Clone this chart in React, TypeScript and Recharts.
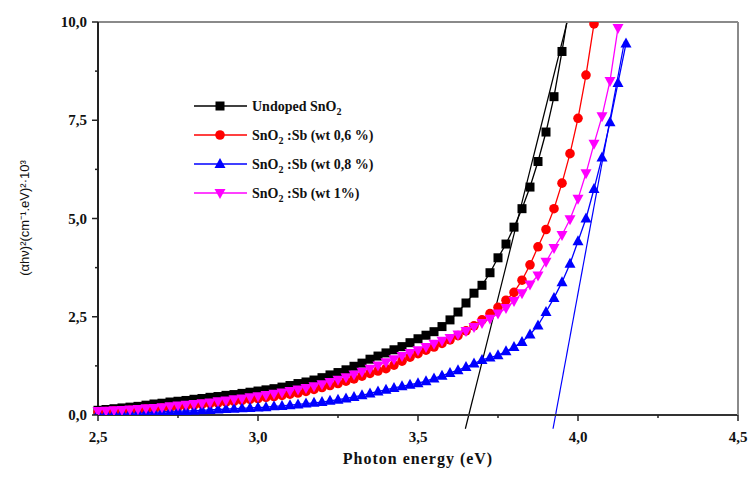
import React from 'react';
import { LineChart, Line, XAxis, YAxis, ReferenceLine } from 'recharts';

// photon energy grid (eV)
const energy = [
  2.5, 2.525, 2.55, 2.575, 2.6, 2.625, 2.65, 2.675, 2.7, 2.725,
  2.75, 2.775, 2.8, 2.825, 2.85, 2.875, 2.9, 2.925, 2.95, 2.975,
  3.0, 3.025, 3.05, 3.075, 3.1, 3.125, 3.15, 3.175, 3.2, 3.225,
  3.25, 3.275, 3.3, 3.325, 3.35, 3.375, 3.4, 3.425, 3.45, 3.475,
  3.5, 3.525, 3.55, 3.575, 3.6, 3.625, 3.65, 3.675, 3.7, 3.725,
  3.75, 3.775, 3.8, 3.825, 3.85, 3.875, 3.9, 3.925, 3.95, 3.975,
  4.0, 4.025, 4.05, 4.075, 4.1, 4.125, 4.15,
];

// (αhν)² ×10³ per sample
const undoped = [
  0.12, 0.14, 0.16, 0.18, 0.2, 0.22, 0.25, 0.28, 0.3, 0.33,
  0.35, 0.37, 0.4, 0.42, 0.45, 0.47, 0.5, 0.52, 0.55, 0.58,
  0.61, 0.64, 0.67, 0.71, 0.75, 0.8, 0.84, 0.89, 0.95, 1.02,
  1.08, 1.15, 1.24, 1.32, 1.42, 1.5, 1.58, 1.66, 1.74, 1.84,
  1.94, 2.03, 2.12, 2.25, 2.42, 2.62, 2.85, 3.1, 3.3, 3.62,
  4.0, 4.35, 4.78, 5.25, 5.8, 6.45, 7.2, 8.1, 9.25, 10.5,
];
const sb06 = [
  0.08, 0.09, 0.1, 0.11, 0.12, 0.13, 0.15, 0.16, 0.18, 0.19,
  0.21, 0.23, 0.25, 0.27, 0.29, 0.31, 0.33, 0.35, 0.37, 0.4,
  0.42, 0.45, 0.47, 0.5, 0.53, 0.56, 0.6, 0.65, 0.7, 0.75,
  0.8, 0.86, 0.92, 0.99, 1.06, 1.12, 1.18, 1.27, 1.37, 1.47,
  1.56, 1.65, 1.73, 1.82, 1.91, 2.02, 2.14, 2.27, 2.42, 2.58,
  2.74, 2.92, 3.12, 3.43, 3.82, 4.28, 4.72, 5.25, 5.9, 6.65,
  7.55, 8.65, 9.95,
];
const sb08 = [
  0.04, 0.04, 0.05, 0.05, 0.06, 0.06, 0.07, 0.07, 0.08, 0.09,
  0.1, 0.1, 0.11, 0.12, 0.13, 0.14, 0.15, 0.16, 0.17, 0.18,
  0.19, 0.2, 0.22, 0.23, 0.25, 0.27, 0.29, 0.31, 0.33, 0.36,
  0.39, 0.42, 0.46, 0.5, 0.55, 0.6, 0.64, 0.69, 0.73, 0.77,
  0.81, 0.86, 0.93, 1.0, 1.07, 1.14, 1.22, 1.31, 1.4, 1.46,
  1.52, 1.62, 1.73, 1.86, 2.05, 2.28, 2.62, 2.98, 3.38, 3.85,
  4.42, 5.0, 5.75, 6.55, 7.45, 8.45, 9.45,
];
const sb10 = [
  0.1, 0.11, 0.12, 0.13, 0.14, 0.15, 0.17, 0.18, 0.2, 0.22,
  0.24, 0.26, 0.28, 0.3, 0.32, 0.35, 0.37, 0.4, 0.42, 0.45,
  0.48, 0.51, 0.54, 0.57, 0.61, 0.65, 0.69, 0.73, 0.78, 0.84,
  0.9, 0.96, 1.03, 1.1, 1.18, 1.26, 1.34, 1.42, 1.5, 1.58,
  1.65, 1.73, 1.81, 1.89, 1.96, 2.05, 2.14, 2.24, 2.34, 2.45,
  2.58, 2.72, 2.9, 3.1, 3.32, 3.55, 3.9, 4.25, 4.58, 4.98,
  5.5, 6.15, 6.9, 7.6, 8.5, 9.85,
];

// linear fits used to read the band gap
const fitUndoped = [{ e: 3.648, v: -0.35 }, { e: 3.966, v: 10 }];
const fitSb08 = [{ e: 3.922, v: -0.35 }, { e: 4.145, v: 9.5 }];

const xTicks = [2.5, 2.75, 3.0, 3.25, 3.5, 3.75, 4.0, 4.25, 4.5];
const yTicks = [0, 1.25, 2.5, 3.75, 5, 6.25, 7.5, 8.75, 10];

const rows = energy.map((e, i) => ({
  e,
  undoped: undoped[i] ?? null,
  sb06: sb06[i] ?? null,
  sb08: sb08[i] ?? null,
  sb10: sb10[i] ?? null,
}));

const SERIF = "'Liberation Serif', 'Times New Roman', serif";
const fmt = (v: number) => v.toFixed(1).replace('.', ',');

function Marker({ shape, cx, cy, color }: { shape: string; cx: number; cy: number; color: string }) {
  if (shape === 'square') return <rect x={cx - 4.5} y={cy - 4.5} width={9} height={9} fill={color} />;
  if (shape === 'circle') return <circle cx={cx} cy={cy} r={4.8} fill={color} />;
  if (shape === 'up')
    return <polygon points={`${cx},${cy - 6} ${cx - 5.5},${cy + 4} ${cx + 5.5},${cy + 4}`} fill={color} />;
  return <polygon points={`${cx},${cy + 6} ${cx - 5.5},${cy - 4} ${cx + 5.5},${cy - 4}`} fill={color} />;
}

const makeDot = (shape: string, color: string) => (props: any) => {
  const { cx, cy, index } = props;
  if (cx == null || cy == null || props.value == null) return <g key={`n-${index}`} />;
  return (
    <g key={`d-${index}`}>
      <Marker shape={shape} cx={cx} cy={cy} color={color} />
    </g>
  );
};

const XTick = (props: any) => {
  const { x, y, payload } = props;
  const major = Math.round(payload.value * 100) % 50 === 0;
  return (
    <g>
      <line x1={x} x2={x} y1={y} y2={y + (major ? 6 : 3)} stroke="#222" strokeWidth={1.5} />
      {major && (
        <text x={x} y={y + 27} textAnchor="middle" fontFamily={SERIF} fontWeight="bold" fontSize={15} fill="#111">
          {fmt(payload.value)}
        </text>
      )}
    </g>
  );
};

const YTick = (props: any) => {
  const { x, y, payload } = props;
  const major = Math.round(payload.value * 100) % 250 === 0;
  return (
    <g>
      <line x1={x} x2={x - (major ? 6 : 3)} y1={y} y2={y} stroke="#222" strokeWidth={1.5} />
      {major && (
        <text x={x - 11} y={y + 5} textAnchor="end" fontFamily={SERIF} fontWeight="bold" fontSize={15} fill="#111">
          {fmt(payload.value)}
        </text>
      )}
    </g>
  );
};

const legend = [
  { rest: '', shape: 'square', color: '#000000' },
  { rest: ' :Sb (wt 0,6 %)', shape: 'circle', color: '#ff0000' },
  { rest: ' :Sb (wt 0,8 %)', shape: 'up', color: '#0000ff' },
  { rest: ' :Sb (wt 1%)', shape: 'down', color: '#ff00ff' },
];

export default function App() {
  return (
    <div style={{ position: 'absolute', left: 0, top: 0, width: 748, height: 481, background: '#fff' }}>
      <LineChart width={748} height={481} data={rows} margin={{ top: 21, right: 9, bottom: 65, left: 97 }}>
        <XAxis
          dataKey="e"
          type="number"
          domain={[2.5, 4.5]}
          ticks={xTicks}
          interval={0}
          height={1}
          tickSize={0}
          tickMargin={0}
          tickLine={false}
          tick={<XTick />}
          axisLine={{ stroke: '#333', strokeWidth: 2 }}
        />
        <XAxis
          xAxisId="top"
          orientation="top"
          type="number"
          domain={[2.5, 4.5]}
          height={1}
          tick={false}
          tickLine={false}
          axisLine={{ stroke: '#8a8a8a', strokeWidth: 2 }}
        />
        <YAxis
          type="number"
          domain={[0, 10]}
          allowDataOverflow
          ticks={yTicks}
          interval={0}
          width={1}
          tickSize={0}
          tickMargin={0}
          tickLine={false}
          tick={<YTick />}
          axisLine={{ stroke: '#222', strokeWidth: 2 }}
        />
        <YAxis
          yAxisId="right"
          orientation="right"
          type="number"
          domain={[0, 10]}
          width={1}
          tick={false}
          tickLine={false}
          axisLine={{ stroke: '#8a8a8a', strokeWidth: 2 }}
        />
        <Line dataKey="undoped" stroke="#000" strokeWidth={1.3} dot={makeDot('square', '#000')} isAnimationActive={false} />
        <Line dataKey="sb06" stroke="#ff0000" strokeWidth={1.3} dot={makeDot('circle', '#ff0000')} isAnimationActive={false} />
        <Line dataKey="sb08" stroke="#0000ff" strokeWidth={1.3} dot={makeDot('up', '#0000ff')} isAnimationActive={false} />
        <Line dataKey="sb10" stroke="#ff00ff" strokeWidth={1.3} dot={makeDot('down', '#ff00ff')} isAnimationActive={false} />
        <ReferenceLine
          segment={[{ x: fitUndoped[0].e, y: fitUndoped[0].v }, { x: fitUndoped[1].e, y: fitUndoped[1].v }]}
          stroke="#000"
          strokeWidth={1.2}
          ifOverflow="visible"
        />
        <ReferenceLine
          segment={[{ x: fitSb08[0].e, y: fitSb08[0].v }, { x: fitSb08[1].e, y: fitSb08[1].v }]}
          stroke="#0000ff"
          strokeWidth={1.2}
          ifOverflow="visible"
        />
      </LineChart>
      <svg width={748} height={481} style={{ position: 'absolute', left: 0, top: 0, pointerEvents: 'none' }}>
        {legend.map((l, i) => {
          const y = 106 + i * 29;
          return (
            <g key={i}>
              <line x1={194} x2={247} y1={y} y2={y} stroke={l.color} strokeWidth={1.3} />
              <Marker shape={l.shape} cx={220} cy={y} color={l.color} />
              <text x={252} y={y + 5} fontFamily={SERIF} fontWeight="bold" fontSize={14} fill="#111">
                {i === 0 ? 'Undoped SnO' : 'SnO'}
                <tspan dy={4} fontSize={10}>2</tspan>
                <tspan dy={-4}>{l.rest}</tspan>
              </text>
            </g>
          );
        })}
        <text x={418} y={464} textAnchor="middle" fontFamily={SERIF} fontWeight="bold" fontSize={16} letterSpacing={1} fill="#111">
          Photon energy (eV)
        </text>
        <text
          x={0}
          y={0}
          transform="translate(29,218) rotate(-90)"
          textAnchor="middle"
          fontFamily="'Liberation Sans', Arial, sans-serif"
          fontSize={13}
          fill="#111"
        >
          (αhν)²(cm⁻¹.eV)²·10³
        </text>
      </svg>
    </div>
  );
}
